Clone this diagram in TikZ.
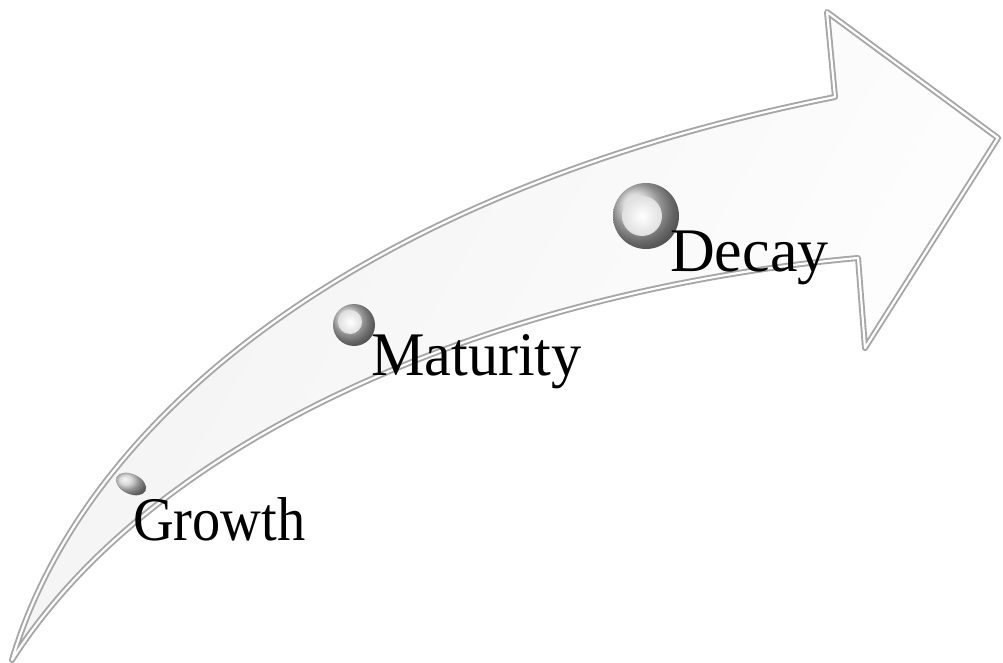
\documentclass[tikz,border=0pt]{standalone}
\usepackage{fontspec}
\setmainfont{Liberation Serif}

\newcommand\arrowbody[1]{%
  \path[#1] (T) .. controls (85,415) and (365,190) .. (U) -- (H) -- (P)
    -- (K) -- (L) .. controls (500,290) and (155,435) .. (T) -- cycle;}

\begin{document}
\begin{tikzpicture}[x=1pt,y=-1pt,
  stage/.style={anchor=base west,inner sep=0pt,font=\fontsize{62}{62}\selectfont},
  ring/.style={ball color=gray!40},
  hole/.style={inner color=white,outer color=gray!25}]
\useasboundingbox (0,0) rectangle (1003,663);
\coordinate (T) at (12,660);
\coordinate (U) at (835,97);
\coordinate (H) at (827,12);
\coordinate (P) at (998,138);
\coordinate (K) at (865,348);
\coordinate (L) at (858,258);
% arrow with bevelled rim
\arrowbody{left color=gray!10,right color=white,shading angle=60}
\arrowbody{draw=gray!70,line width=6,line join=round}
\arrowbody{draw=white,line width=2.2,line join=round}
% stage markers
\shade[ring,rotate around={-25:(131,484)}] (131,484) ellipse (16 and 10);
\shade[ring] (354,325) circle (21);
\shade[hole] (350,322) circle (12);
\shade[ring] (646,216) circle (33);
\shade[hole] (642,216) circle (20);
\node[stage] (growth) at (133,540) {\scalebox{0.91}[1]{Growth}};
\node[stage] (maturity) at (371,375) {\scalebox{0.97}[1]{Maturity}};
\node[stage] (decay) at (670,271) {Decay};
\end{tikzpicture}
\end{document}
